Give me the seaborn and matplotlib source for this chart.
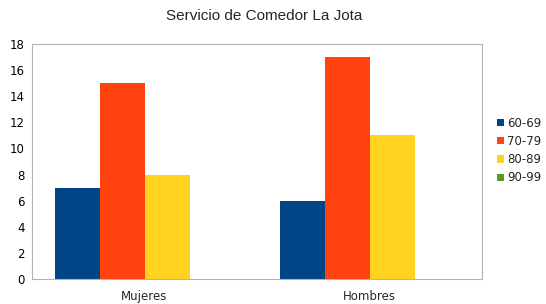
import matplotlib
matplotlib.use('Agg')

import pandas as pd
import matplotlib.pyplot as plt
import seaborn as sns
from matplotlib.ticker import FixedLocator

# data
groups = ['Mujeres', 'Hombres']
ranges = ['60-69', '70-79', '80-89', '90-99']
v6069 = [7, 6]
v7079 = [15, 17]
v8089 = [8, 11]
v9099 = [0, 0]
colors = ['#004586', '#ff420e', '#ffd320', '#579d1c']

rows = []
for r, vals in zip(ranges, [v6069, v7079, v8089, v9099]):
    for g, v in zip(groups, vals):
        rows.append({'grupo': g, 'rango': r, 'valor': v})
df = pd.DataFrame(rows)

sns.set_style('white')
plt.rcParams['font.family'] = ['DejaVu Sans']

fig = plt.figure(figsize=(5.46, 3.04), dpi=100)
ax = fig.add_axes([32 / 546, 25 / 304, 450 / 546, 235 / 304])

sns.barplot(data=df, x='grupo', y='valor', hue='rango', order=groups,
            hue_order=ranges, palette=colors, width=0.8, saturation=1,
            linewidth=0, errorbar=None, ax=ax)

ax.set_xlim(-0.5, 1.5)
ax.set_ylim(0, 18)
ax.set_yticks(range(0, 19, 2))
ax.set_xlabel('')
ax.set_ylabel('')
ax.tick_params(axis='y', length=4.3, width=0.8, color='#b3b3b3', labelsize=8.5,
               pad=1, labelcolor='#000000')
ax.tick_params(axis='x', which='major', length=0, labelsize=8.5, pad=8)
ax.xaxis.set_minor_locator(FixedLocator([0.5]))
ax.tick_params(axis='x', which='minor', length=4, width=0.8, color='#b3b3b3',
               direction='out')
for s in ax.spines.values():
    s.set_color('#b3b3b3')
    s.set_linewidth(0.8)

fig.suptitle('Servicio de Comedor La Jota', x=264 / 546, y=1 - 16 / 304,
             va='center', fontsize=11, family='Liberation Sans')

h, l = ax.get_legend_handles_labels()
ax.legend(h, l, loc='center left', bbox_to_anchor=(497 / 546, 1 - 150.5 / 304),
          bbox_transform=fig.transFigure, frameon=False, fontsize=8.5,
          handlelength=0.6, handleheight=0.6, handletextpad=0.25,
          labelspacing=0.45, borderpad=0, borderaxespad=0)

fig.savefig('out.png', dpi=100)
